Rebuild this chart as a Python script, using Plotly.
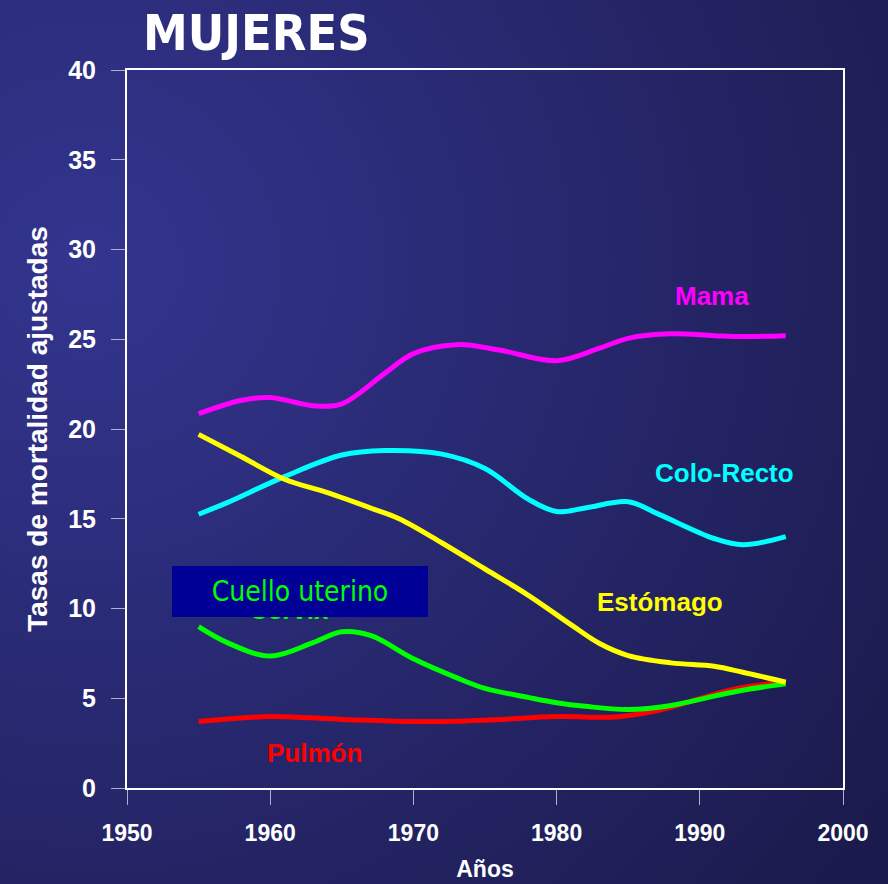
import base64
import plotly.graph_objects as go

# ---- data ----
mama_years = [1955, 1958, 1960, 1963, 1965, 1968, 1970, 1973, 1976, 1980, 1983, 1985, 1988, 1991, 1993, 1996]
mama_vals = [20.85, 21.6, 21.75, 21.3, 21.4, 23.1, 24.2, 24.7, 24.4, 23.8, 24.5, 25.05, 25.3, 25.2, 25.15, 25.2]

colo_years = [1955, 1957, 1961, 1965, 1968, 1972, 1975, 1978, 1980, 1982, 1985, 1987, 1991, 1993, 1996]
colo_vals = [15.25, 15.9, 17.35, 18.55, 18.8, 18.6, 17.8, 16.1, 15.4, 15.6, 15.95, 15.3, 13.9, 13.55, 14.0]

esto_years = [1955, 1958, 1961, 1964, 1967, 1969, 1972, 1975, 1978, 1981, 1983, 1985, 1988, 1991, 1993, 1996]
esto_vals = [19.7, 18.45, 17.2, 16.45, 15.6, 15.0, 13.65, 12.2, 10.75, 9.1, 8.05, 7.38, 6.97, 6.78, 6.45, 5.9]

cuello_years = [1955, 1957, 1960, 1963, 1965, 1967, 1970, 1973, 1975, 1978, 1980, 1982, 1985, 1988, 1991, 1993, 1996]
cuello_vals = [8.99, 8.1, 7.35, 8.1, 8.7, 8.5, 7.2, 6.15, 5.55, 5.05, 4.75, 4.55, 4.37, 4.6, 5.12, 5.45, 5.8]

pulmon_years = [1955, 1960, 1965, 1970, 1975, 1980, 1984, 1986, 1988, 1991, 1993, 1996]
pulmon_vals = [3.7, 3.98, 3.82, 3.7, 3.78, 3.98, 3.95, 4.15, 4.5, 5.22, 5.6, 5.9]

x_ticks = [1950, 1960, 1970, 1980, 1990, 2000]
y_ticks = [0, 5, 10, 15, 20, 25, 30, 35, 40]

W, H = 888, 884
ML, MR, MT, MB = 127, 45, 70, 96
PW, PH = W - ML - MR, H - MT - MB

fig = go.Figure()

series = [
    ("Pulmón", pulmon_years, pulmon_vals, "#ff0000"),
    ("Cuello uterino", cuello_years, cuello_vals, "#00ff00"),
    ("Colo-Recto", colo_years, colo_vals, "#00ffff"),
    ("Estómago", esto_years, esto_vals, "#ffff00"),
    ("Mama", mama_years, mama_vals, "#ff00ff"),
]
for name, xs, ys, col in series:
    fig.add_trace(go.Scatter(x=xs, y=ys, mode="lines", name=name,
                             line=dict(color=col, width=5, shape="spline", smoothing=1.0)))

# background gradient
svg = (f'<svg xmlns="http://www.w3.org/2000/svg" width="{W}" height="{H}" preserveAspectRatio="none">'
       '<defs><radialGradient id="g" cx="0.1" cy="0.3" r="1.1">'
       '<stop offset="0" stop-color="#33358f"/><stop offset="1" stop-color="#1b1a4c"/>'
       '</radialGradient></defs>'
       f'<rect width="{W}" height="{H}" fill="url(#g)"/></svg>')
src = "data:image/svg+xml;base64," + base64.b64encode(svg.encode()).decode()
fig.add_layout_image(dict(source=src, xref="paper", yref="paper",
                          x=-ML / PW, y=1 + MT / PH, sizex=W / PW, sizey=H / PH,
                          xanchor="left", yanchor="top", sizing="stretch", layer="below"))

lab = dict(family="Arial, Liberation Sans, sans-serif", size=26, weight="bold")
anns = [
    dict(x=1990.85, y=27.4, text="Mama", font=dict(lab, color="#ff00ff")),
    dict(x=1991.7, y=17.55, text="Colo-Recto", font=dict(lab, color="#00ffff")),
    dict(x=1987.2, y=10.36, text="Estómago", font=dict(lab, color="#ffff00")),
    dict(x=1963.1, y=1.95, text="Pulmón", font=dict(lab, color="#ff0000")),
    dict(x=1961.3, y=9.9, text="Cervix", font=dict(lab, color="#00ff00")),
    dict(x=1962.08, y=10.95, text="Cuello uterino",
         font=dict(family="DejaVu Sans Condensed, DejaVu Sans, sans-serif", size=28, color="#00ff00"),
         bgcolor="#000096", width=256, height=51, borderpad=0, borderwidth=0),
]
for a in anns:
    fig.add_annotation(xref="x", yref="y", showarrow=False, xanchor="center", yanchor="middle", **a)

fig.add_annotation(xref="paper", yref="paper", x=(256 - ML) / PW, y=1 + (MT - 33) / PH,
                   text="MUJERES", showarrow=False, xanchor="center", yanchor="middle",
                   font=dict(family="DejaVu Sans Condensed, DejaVu Sans, sans-serif", size=50,
                             color="white", weight="bold"))

fig.update_layout(
    width=W, height=H,
    margin=dict(l=ML, r=MR, t=MT, b=MB),
    paper_bgcolor="#26276e",
    plot_bgcolor="rgba(0,0,0,0)",
    showlegend=False,
    xaxis=dict(range=[1950, 2000], tickvals=x_ticks, showgrid=False, zeroline=False,
               automargin=False,
               showline=True, linecolor="white", linewidth=2, mirror=True,
               ticks="outside", ticklen=15, tickwidth=1, tickcolor="#b0b0c8",
               tickfont=dict(family="Arial, Liberation Sans, sans-serif",
                             size=23, color="white", weight="bold"),
               ticklabelstandoff=8,
               title=dict(text="Años", standoff=16,
                          font=dict(family="Arial, Liberation Sans, sans-serif",
                                    size=23, color="white", weight="bold"))),
    yaxis=dict(range=[0, 40], tickvals=y_ticks, showgrid=False, zeroline=False,
               automargin=False,
               showline=True, linecolor="white", linewidth=2, mirror=True,
               ticks="outside", ticklen=14, tickwidth=1, tickcolor="#b0b0c8",
               tickfont=dict(family="Arial, Liberation Sans, sans-serif", size=25,
                             color="white", weight="bold"),
               ticklabelstandoff=10,
               title=dict(text="Tasas de mortalidad ajustadas", standoff=12,
                          font=dict(family="Arial, Liberation Sans, sans-serif", size=28,
                                    color="white", weight="bold"))),
)

fig.write_html("out.html", config={"displayModeBar": False},
               post_script="document.body.style.margin='0';document.body.style.overflow='hidden';")
